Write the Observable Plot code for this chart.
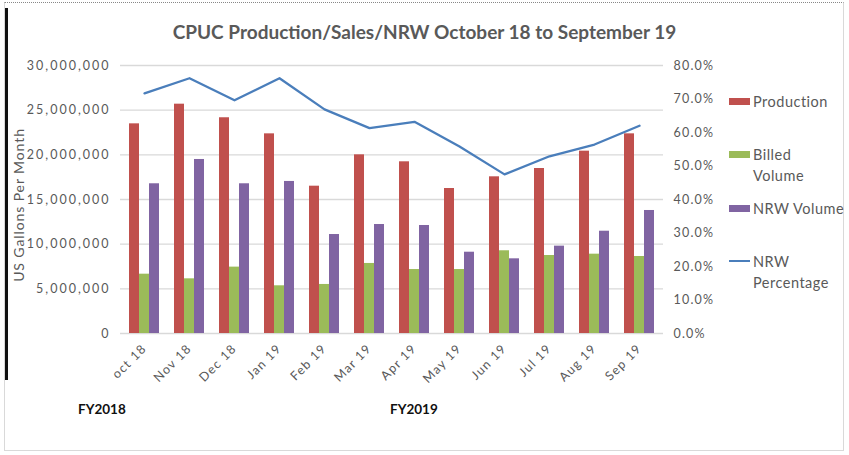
<!DOCTYPE html>
<html>
<head>
<meta charset="utf-8">
<script src="https://cdn.jsdelivr.net/npm/d3@7"></script>
<script src="https://cdn.jsdelivr.net/npm/@observablehq/plot@0.6"></script>
<style>
  html, body { margin: 0; padding: 0; background: #fff; }
  #wrap { position: relative; width: 849px; height: 455px; overflow: hidden; font-family: Lato, "Open Sans", sans-serif; }
  #frame { position: absolute; left: 4px; top: 2px; width: 840px; height: 449px; border: 1px solid #d9d9d9; border-top: 1px dotted #888; box-sizing: border-box; }
  #blackbar { position: absolute; left: 5px; top: 8px; width: 3px; height: 372px; background: #111; }
  #title { position: absolute; left: 0; width: 849px; top: 20px; text-align: center; font-weight: bold; font-size: 19px; color: #595959; }
  #ytitle { position: absolute; left: 18px; top: 205px; transform: translate(-50%, -50%) rotate(-90deg); white-space: nowrap; font-size: 14px; letter-spacing: 0.9px; color: #595959; }
  .leg { position: absolute; left: 753px; font-size: 14.5px; letter-spacing: 0.5px; color: #595959; line-height: 21px; }
  .sw { position: absolute; left: 729px; width: 21px; }
  .fy { position: absolute; top: 401px; font-weight: bold; font-size: 13.5px; color: #111; }
  svg { position: absolute; left: 0; top: 0; }
</style>
</head>
<body>
<div id="wrap">
  <div id="frame"></div>
  <div id="blackbar"></div>
  <div id="title">CPUC Production/Sales/NRW October 18 to September 19</div>
  <div id="ytitle">US Gallons Per Month</div>
</div>
<script>
const months = ["oct 18","Nov 18","Dec 18","Jan 19","Feb 19","Mar 19","Apr 19","May 19","Jun 19","Jul 19","Aug 19","Sep 19"];
const production = [23470000, 25670000, 24150000, 22350000, 16490000, 20000000, 19220000, 16230000, 17540000, 18470000, 20410000, 22350000];
const billedVolume = [6640000, 6120000, 7430000, 5340000, 5490000, 7840000, 7160000, 7160000, 9260000, 8730000, 8880000, 8620000];
const nrwVolume = [16760000, 19480000, 16760000, 17020000, 11080000, 12200000, 12090000, 9100000, 8360000, 9780000, 11450000, 13770000];
const nrwPercentage = [71.7, 76.2, 69.6, 76.2, 66.9, 61.3, 63.2, 55.8, 47.5, 52.9, 56.4, 62.0];
const seriesNames = ["Production", "Billed Volume", "NRW Volume", "NRW Percentage"];
const seriesColors = ["#C0504D", "#9BBB59", "#8064A2", "#4A7EBB"];
const fyLabels = ["FY2018", "FY2019"];
const yMax = 30000000, pctMax = 80;

const rows = months.map((m, i) => ({month: m, production: production[i], billed: billedVolume[i], nrw: nrwVolume[i], pct: nrwPercentage[i]}));
const pctToY = p => p * yMax / pctMax;

const font = "Lato, 'Open Sans', sans-serif";
const chart = Plot.plot({
  width: 849, height: 455,
  marginLeft: 120, marginRight: 186, marginTop: 65, marginBottom: 122,
  style: {fontFamily: font, fontSize: "12.5px", color: "#595959", background: "transparent", overflow: "visible"},
  x: {domain: months, paddingInner: 0.335, paddingOuter: 0.2, label: null},
  y: {domain: [0, yMax], label: null},
  marks: [
    Plot.gridY({ticks: d3.range(0, yMax + 1, 5000000), stroke: "#d9d9d9", strokeOpacity: 1, strokeWidth: 1.3}),
    Plot.barY(rows, {x: "month", y: "production", fill: seriesColors[0], insetRight: 20, insetLeft: 0}),
    Plot.barY(rows, {x: "month", y: "billed", fill: seriesColors[1], insetLeft: 10, insetRight: 10}),
    Plot.barY(rows, {x: "month", y: "nrw", fill: seriesColors[2], insetLeft: 20, insetRight: 0}),
    Plot.lineY(rows, {x: "month", y: d => pctToY(d.pct), stroke: seriesColors[3], strokeWidth: 2.3}),
    Plot.axisY({ticks: d3.range(0, yMax + 1, 5000000), tickSize: 0, tickPadding: 10, tickFormat: d3.format(","), fontSize: 12.5, fill: "#595959", label: null}),
    Plot.axisY({anchor: "right", ticks: d3.range(0, pctMax + 1, 10).map(pctToY), tickSize: 0, tickPadding: 10, tickFormat: d => (d * pctMax / yMax).toFixed(1) + "%", fontSize: 12.5, fill: "#595959", label: null}),
    Plot.axisX({tickSize: 0, tickRotate: -45, tickPadding: 13, fontSize: 12.5, fill: "#595959", label: null})
  ]
});
chart.querySelectorAll('g[aria-label="y-axis tick label"] text').forEach(t => {
  t.setAttribute("letter-spacing", t.textContent.includes("%") ? "1.2" : "2");
});
chart.querySelectorAll('g[aria-label="x-axis tick label"] text').forEach(t => t.setAttribute("letter-spacing", "1.2"));
const wrap = document.getElementById("wrap");
wrap.appendChild(chart);

// legend
const legendItems = [
  {name: "Production", lines: ["Production"], y: 101, kind: "bar"},
  {name: "Billed Volume", lines: ["Billed", "Volume"], y: 154, kind: "bar"},
  {name: "NRW Volume", lines: ["NRW Volume"], y: 208, kind: "bar"},
  {name: "NRW Percentage", lines: ["NRW", "Percentage"], y: 261, kind: "line"}
];
legendItems.forEach(it => {
  const sw = document.createElement("div");
  sw.className = "sw";
  const h = it.kind === "bar" ? 7 : 2.5;
  sw.style.top = (it.y - h / 2) + "px";
  sw.style.height = h + "px";
  sw.style.background = seriesColors[seriesNames.indexOf(it.name)];
  wrap.appendChild(sw);
  const tx = document.createElement("div");
  tx.className = "leg";
  tx.style.top = (it.y - 10.5) + "px";
  tx.innerHTML = it.lines.join("<br>");
  wrap.appendChild(tx);
});
const fyX = [78, 390];
fyLabels.forEach((t, i) => {
  const d = document.createElement("div");
  d.className = "fy";
  d.style.left = fyX[i] + "px";
  d.textContent = t;
  wrap.appendChild(d);
});
</script>
</body>
</html>
